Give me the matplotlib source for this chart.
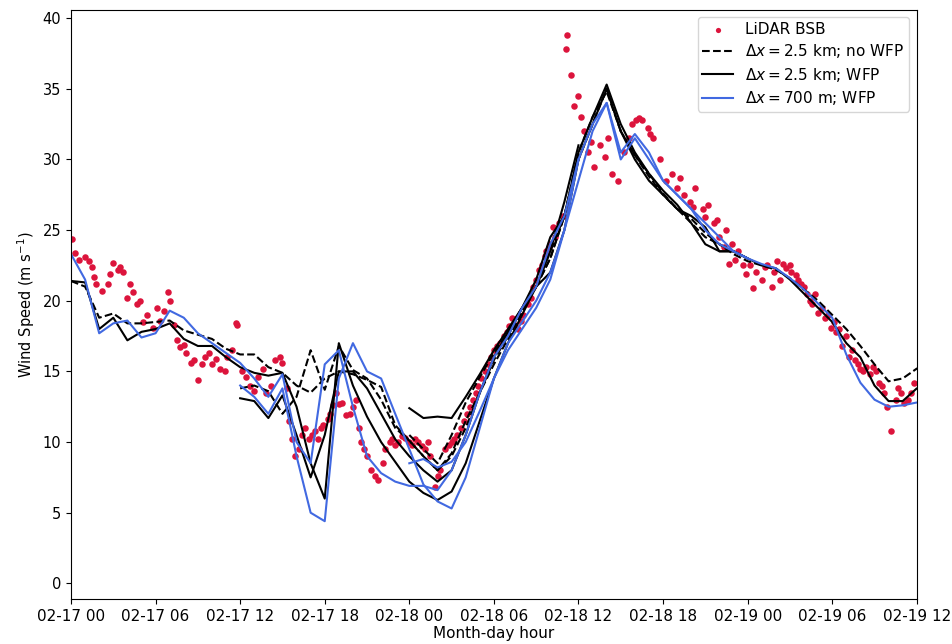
import numpy as np
import matplotlib
matplotlib.use("Agg")
import matplotlib.pyplot as plt
import matplotlib.dates as mdates

# Lidar observations (hours after 02-17 00, wind speed m/s)
lidar_hours = [0.1, 0.3, 0.6, 1.0, 1.3, 1.5, 1.6, 1.8, 2.2, 2.6, 2.8, 3.0, 3.3, 3.5, 3.7, 4.0, 4.2, 4.4, 4.7, 4.9,
               5.1, 5.4, 5.8, 6.1, 6.3, 6.6, 6.9, 7.0, 7.3, 7.5, 7.7, 8.0, 8.2, 8.5, 8.7, 9.0, 9.3, 9.5, 9.8, 10.0,
               10.3, 10.6, 10.9, 11.1, 11.4, 11.7, 11.8, 12.1, 12.4, 12.7, 13.0, 13.3, 13.6, 13.8, 14.2, 14.5, 14.8, 15.0, 15.3, 15.5,
               15.7, 15.9, 16.2, 16.4, 16.6, 16.9, 17.1, 17.3, 17.5, 17.7, 17.9, 18.2, 18.4, 18.6, 18.8, 19.0, 19.2, 19.5, 19.8, 20.0,
               20.2, 20.4, 20.6, 20.8, 21.0, 21.3, 21.6, 21.8, 22.1, 22.3, 22.6, 22.8, 23.0, 23.2, 23.5, 23.7, 24.0, 24.2, 24.4, 24.6,
               24.9, 25.1, 25.3, 25.5, 25.8, 26.0, 26.2, 26.5, 26.8, 27.0, 27.2, 27.4, 27.7, 27.9, 28.1, 28.3, 28.5, 28.7, 28.9, 29.1,
               29.4, 29.6, 29.8, 30.0, 30.2, 30.4, 30.7, 30.9, 31.1, 31.3, 31.5, 31.7, 31.9, 32.1, 32.4, 32.6, 32.8, 33.0, 33.2, 33.4,
               33.6, 33.7, 33.9, 34.0, 34.2, 34.3, 34.6, 34.9, 35.1, 35.2, 35.5, 35.7, 36.0, 36.2, 36.4, 36.7, 36.9, 37.1, 37.5, 37.9,
               38.1, 38.4, 38.8, 39.2, 39.6, 39.8, 40.1, 40.3, 40.5, 40.9, 41.1, 41.3, 41.8, 42.2, 42.6, 43.0, 43.2, 43.5, 43.9, 44.1,
               44.3, 44.8, 45.0, 45.2, 45.6, 45.8, 46.0, 46.3, 46.5, 46.7, 46.9, 47.1, 47.3, 47.7, 47.9, 48.2, 48.4, 48.6, 49.0, 49.2,
               49.4, 49.7, 49.9, 50.1, 50.3, 50.5, 50.7, 51.0, 51.1, 51.4, 51.6, 51.8, 52.0, 52.2, 52.4, 52.6, 52.8, 53.0, 53.3, 53.5,
               53.7, 53.9, 54.1, 54.3, 54.5, 54.7, 55.0, 55.2, 55.4, 55.6, 55.8, 56.0, 56.2, 56.4, 56.7, 56.9, 57.1, 57.3, 57.5, 57.7,
               57.9, 58.2, 58.5, 58.7, 58.9, 59.1, 59.4, 59.6, 59.8]
lidar_speed = [24.4, 23.4, 22.9, 23.1, 22.8, 22.4, 21.7, 21.2, 20.7, 21.2, 21.9, 22.7, 22.2, 22.4, 22.0, 20.2, 21.2, 20.6, 19.8, 20.0,
               18.5, 19.0, 18.1, 19.5, 18.6, 19.3, 20.6, 20.0, 18.3, 17.2, 16.7, 16.9, 16.3, 15.6, 15.8, 14.4, 15.5, 16.0, 16.3, 15.5,
               15.9, 15.2, 15.0, 16.0, 16.5, 18.4, 18.3, 15.0, 14.6, 14.0, 13.6, 14.6, 15.2, 13.5, 14.0, 15.8, 16.0, 15.6, 13.8, 11.5,
               10.2, 9.0, 9.5, 10.5, 11.0, 10.2, 10.5, 10.8, 10.2, 11.0, 11.2, 11.6, 12.0, 12.6, 13.5, 12.7, 12.8, 11.9, 12.0, 12.5,
               13.0, 11.0, 10.0, 9.5, 9.0, 8.0, 7.6, 7.3, 8.5, 9.5, 10.0, 10.2, 9.8, 10.0, 10.4, 10.3, 10.0, 9.8, 10.2, 10.0,
               9.7, 9.5, 10.0, 9.0, 6.8, 7.6, 8.0, 9.5, 9.8, 10.0, 10.2, 10.5, 11.0, 11.5, 12.0, 12.5, 13.0, 13.5, 14.0, 14.5,
               15.0, 15.5, 16.0, 16.5, 16.8, 17.0, 17.5, 17.8, 18.2, 18.8, 18.3, 18.0, 18.6, 19.0, 19.8, 20.2, 21.0, 21.5, 22.2, 22.5,
               23.2, 23.5, 23.8, 24.0, 25.2, 24.5, 25.5, 26.0, 37.8, 38.8, 36.0, 33.8, 34.5, 33.0, 32.0, 30.5, 31.2, 29.5, 31.0, 30.2,
               31.5, 29.0, 28.5, 30.5, 31.5, 32.5, 32.8, 32.9, 32.8, 32.2, 31.8, 31.5, 30.0, 28.5, 29.0, 28.0, 28.7, 27.5, 27.0, 26.6,
               28.0, 26.5, 25.9, 26.8, 25.5, 25.7, 24.5, 23.8, 25.0, 22.6, 24.0, 22.9, 23.5, 22.5, 21.9, 22.5, 20.9, 22.0, 21.5, 22.4,
               22.5, 21.0, 22.0, 22.8, 21.5, 22.6, 22.3, 22.5, 22.0, 21.8, 21.5, 21.2, 21.0, 20.5, 20.0, 19.8, 20.5, 19.1, 19.5, 18.8,
               19.0, 18.1, 18.5, 17.8, 18.0, 16.8, 17.5, 16.0, 16.5, 15.8, 15.5, 15.2, 15.0, 15.3, 14.8, 15.3, 15.0, 14.2, 14.0, 13.5,
               12.5, 10.8, 13.0, 13.8, 13.5, 12.8, 13.0, 13.5, 14.2]

# Hourly model output, three runs started at 02-17 00, 02-17 12 and 02-18 00
run_start = [0, 12, 24]

nowfp_25km_a = [21.4, 21.0, 18.8, 19.1, 18.4, 18.4, 18.5, 18.6, 17.9, 17.6, 17.3, 16.6, 16.2, 16.2, 15.3, 14.9,
                14.0, 13.5, 14.5, 15.0, 14.8, 14.4, 13.9, 11.2, 10.1, 9.0, 8.0, 9.2, 11.5, 13.5, 15.5, 17.3,
                19.2, 21.0, 23.5, 26.0, 30.0]
nowfp_25km_b = [13.8, 14.0, 13.6, 12.0, 13.2, 16.5, 13.7, 16.8, 15.1, 14.5, 13.0, 11.0, 10.1, 9.0, 8.0, 9.0,
                11.0, 13.5, 15.8, 17.5, 19.5, 21.0, 23.0, 26.0, 30.0, 32.5, 35.0, 32.0, 30.3, 29.0, 27.6, 26.5,
                25.5, 24.5, 24.0, 23.5, 23.0]
nowfp_25km_c = [10.5, 9.5, 8.5, 10.5, 12.8, 14.6, 16.3, 17.8, 19.5, 21.0, 23.0, 26.0, 30.5, 33.0, 34.8, 32.0,
                30.3, 28.8, 27.5, 26.5, 25.8, 24.8, 24.0, 23.3, 22.8, 22.5, 22.2, 21.6, 20.8, 20.0, 19.0, 18.0,
                16.8, 15.5, 14.3, 14.5, 15.2, 15.4]

wfp_25km_a = [21.4, 21.3, 18.0, 18.8, 17.2, 17.8, 18.0, 18.4, 17.3, 16.8, 16.8, 16.0, 15.3, 14.9, 14.7, 14.9,
              12.5, 8.5, 6.0, 17.0, 14.0, 11.8, 10.0, 8.6, 7.2, 6.4, 5.9, 6.5, 8.5, 11.5, 14.5, 17.0,
              19.0, 21.0, 23.5, 27.0, 31.0]
wfp_25km_b = [13.1, 12.9, 11.7, 13.3, 10.5, 7.5, 10.5, 15.0, 15.0, 13.8, 12.0, 10.2, 9.0, 8.0, 7.2, 8.0,
              10.5, 13.5, 16.0, 17.8, 19.5, 21.5, 24.5, 26.0, 30.5, 33.0, 35.3, 32.5, 30.5, 29.0, 27.8, 26.8,
              25.5, 24.0, 23.5, 23.5, 23.0]
wfp_25km_c = [12.4, 11.7, 11.8, 11.7, 13.2, 14.8, 16.5, 18.0, 19.5, 21.0, 22.0, 25.0, 30.0, 32.5, 35.0, 32.0,
              30.0, 28.5, 27.5, 26.5, 26.0, 25.2, 23.5, 23.5, 23.0, 22.5, 22.3, 21.5, 20.5, 19.5, 18.5, 17.0,
              16.0, 14.0, 12.9, 12.9, 13.8, 13.9]

wfp_700m_a = [23.3, 21.5, 17.7, 18.4, 18.6, 17.4, 17.7, 19.3, 18.8, 17.7, 17.0, 16.3, 15.6, 14.5, 13.2, 14.8,
              10.0, 8.5, 15.5, 16.5, 12.5, 9.0, 7.8, 7.2, 6.9, 6.9, 6.6, 8.0, 10.5, 13.5, 16.0, 17.5,
              19.5, 21.0, 24.0, 26.0, 30.0]
wfp_700m_b = [14.0, 13.2, 12.0, 13.8, 9.0, 5.0, 4.4, 14.5, 17.0, 15.0, 14.5, 12.0, 9.5, 7.0, 5.8, 5.3,
              7.5, 11.0, 14.5, 17.0, 18.5, 20.0, 22.0, 25.0, 30.0, 32.5, 34.0, 30.0, 31.5, 30.0, 28.5, 27.5,
              26.5, 25.0, 24.0, 23.5, 23.0]
wfp_700m_c = [8.5, 8.8, 8.2, 8.6, 10.0, 12.2, 14.5, 16.5, 18.0, 19.5, 21.5, 25.0, 28.5, 32.0, 34.0, 30.5,
              31.8, 30.5, 28.5, 27.5, 26.5, 25.5, 24.5, 23.5, 23.0, 22.6, 22.3, 21.6, 20.8, 19.8, 18.8, 16.2,
              14.2, 13.0, 12.5, 12.6, 12.8, 12.8]

t0 = np.datetime64("2021-02-17T00:00")


def to_time(hours, start=0):
    minutes = (np.asarray(hours, dtype=float) + start) * 60
    return t0 + minutes.astype(int).astype("timedelta64[m]")


fig = plt.figure(figsize=(9.53, 6.44), dpi=100)
ax = fig.add_axes([0.0745, 0.070, 0.8875, 0.915])

ax.scatter(to_time(lidar_hours), lidar_speed, s=22, color="crimson", linewidths=0, zorder=1, label="LiDAR BSB")

dashed_runs = [nowfp_25km_a, nowfp_25km_b, nowfp_25km_c]
solid_runs = [wfp_25km_a, wfp_25km_b, wfp_25km_c]
blue_runs = [wfp_700m_a, wfp_700m_b, wfp_700m_c]

for k, start in enumerate(run_start):
    ax.plot(to_time(np.arange(len(dashed_runs[k])), start), dashed_runs[k], "k--", lw=1.5,
            label=r"$\Delta x = 2.5$ km; no WFP" if k == 0 else None)
for k, start in enumerate(run_start):
    ax.plot(to_time(np.arange(len(solid_runs[k])), start), solid_runs[k], "k-", lw=1.5,
            label=r"$\Delta x = 2.5$ km; WFP" if k == 0 else None)
for k, start in enumerate(run_start):
    ax.plot(to_time(np.arange(len(blue_runs[k])), start), blue_runs[k], color="royalblue", lw=1.5,
            label=r"$\Delta x = 700$ m; WFP" if k == 0 else None)

ax.set_xlim(to_time(0), to_time(60))
ax.set_ylim(-1.1, 40.6)
ax.xaxis.set_major_locator(mdates.HourLocator(byhour=[0, 6, 12, 18]))
ax.xaxis.set_major_formatter(mdates.DateFormatter("%m-%d %H"))
ax.tick_params(axis="x", labelsize=11)
ax.tick_params(axis="y", labelsize=10.5)
ax.set_xlabel("Month-day hour", fontsize=11, labelpad=2)
ax.set_ylabel(r"Wind Speed (m s$^{-1}$)", fontsize=10.5)
ax.legend(loc="upper right", fontsize=11, labelspacing=0.35, borderpad=0.3, markerscale=0.8)

fig.savefig("out.png", dpi=100)
